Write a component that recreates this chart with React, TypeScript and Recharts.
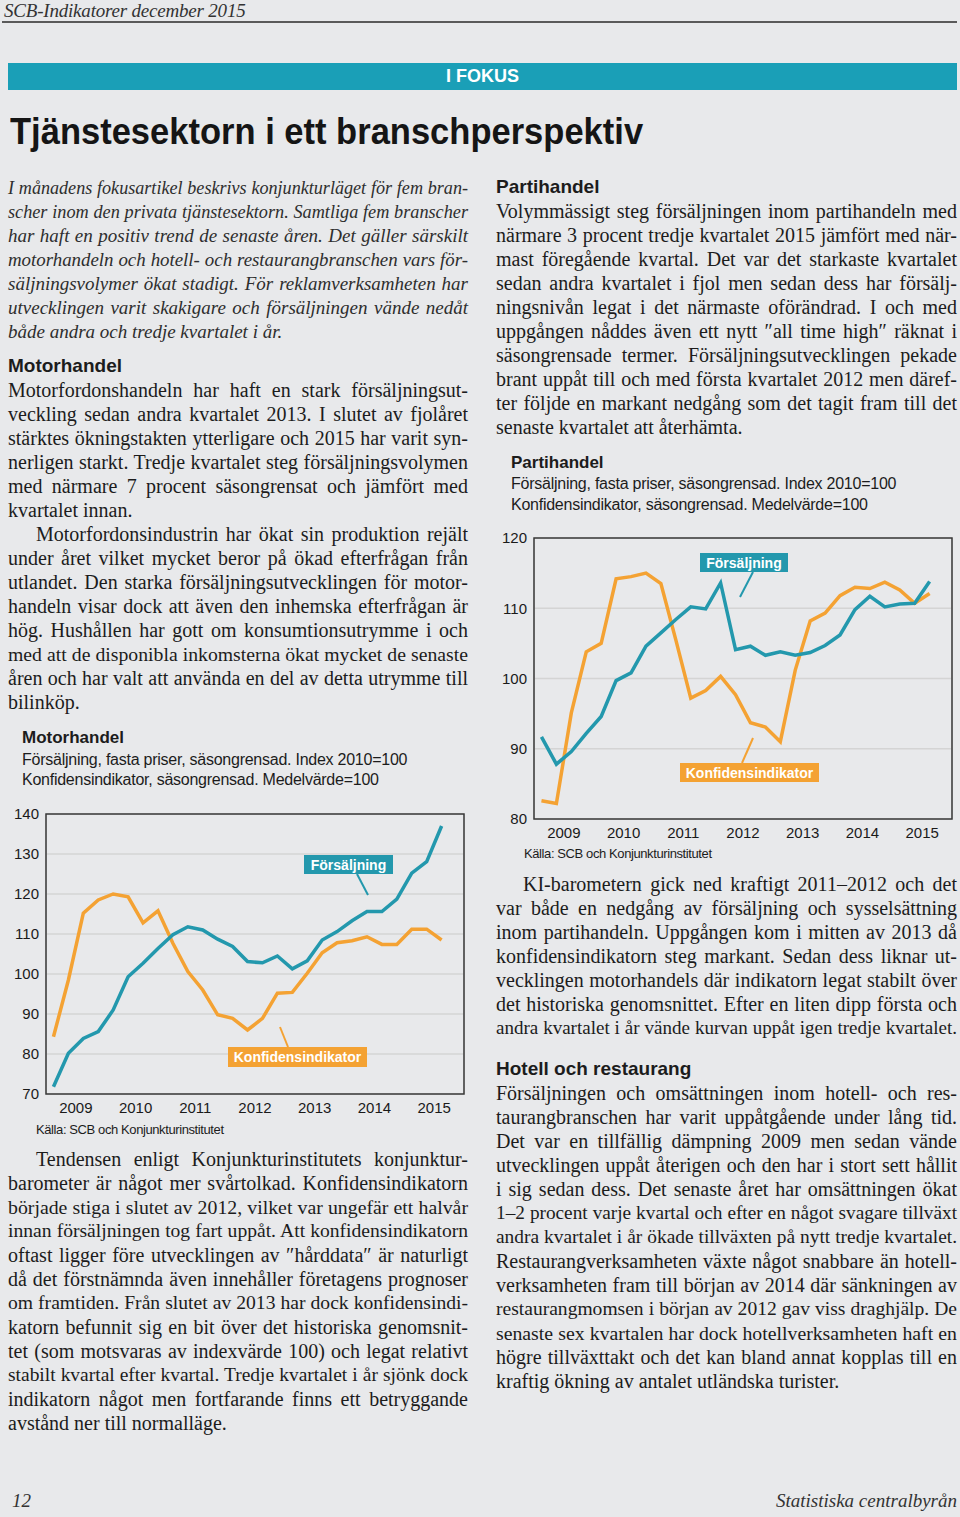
import React, { useLayoutEffect, useRef } from 'react';
import { LineChart, Line, XAxis, YAxis, CartesianGrid, ReferenceArea } from 'recharts';

// kvartalsdata 2009K1 - 2015K3
const years = [2009, 2010, 2011, 2012, 2013, 2014, 2015];

const motorSales = [
    71.8, 80.2, 83.9, 85.6, 91.0, 99.3, 102.7, 106.4, 109.8, 111.8, 111.0, 108.7, 106.9, 103.1,
    102.8, 104.5, 101.3, 103.3, 108.5, 110.6, 113.3, 115.6, 115.6, 118.7, 125.2, 128.1, 137.0
];
const motorConf = [
    84.3, 98.5, 115.2, 118.5, 120.0, 119.3, 112.8, 115.8, 107.7, 100.6, 96.0, 89.8, 88.9, 86.0,
    88.9, 95.2, 95.4, 100.2, 105.3, 107.8, 108.3, 109.3, 107.4, 107.4, 111.2, 111.2, 108.5
];
const motorTicks = [70, 80, 90, 100, 110, 120, 130, 140];

const partiSales = [
    91.7, 87.8, 89.6, 92.2, 94.6, 99.7, 100.8, 104.6, 106.5, 108.4, 110.2, 109.9, 113.6, 104.1,
    104.6, 103.3, 103.8, 103.3, 103.7, 104.7, 106.2, 109.8, 111.7, 110.2, 110.6, 110.7, 113.8
];
const partiConf = [
    82.6, 82.2, 95.1, 103.8, 105.0, 114.2, 114.5, 115.0, 113.5, 105.5, 97.2, 98.3, 100.3, 97.7,
    93.7, 93.1, 91.0, 101.2, 108.2, 109.3, 111.8, 113.0, 112.8, 113.7, 112.6, 110.7, 112.1
];
const partiTicks = [80, 90, 100, 110, 120];

const TEAL = '#2398ad';
const ORANGE = '#f4a233';
const TEXT = '#1c1c1c';
const SANS = '"Liberation Sans", Arial, Helvetica, sans-serif';
const SERIF = '"Liberation Serif", "Times New Roman", serif';

const quarterCount = years.length * 4;
const yearBounds = years.map((_, i) => i * 4).concat(quarterCount);
const yearMids = years.map((_, i) => i * 4 + 2);

const toRows = (sales: number[], conf: number[]) =>
    sales.map((v, i) => ({ q: i + 0.5, sales: v, conf: conf[i] }));

const intro = [
    'I månadens fokusartikel beskrivs konjunkturläget för fem bran-',
    'scher inom den privata tjänstesektorn. Samtliga fem branscher',
    'har haft en positiv trend de senaste åren. Det gäller särskilt',
    'motorhandeln och hotell- och restaurangbranschen vars för-',
    'säljningsvolymer ökat stadigt. För reklamverksamheten har',
    'utvecklingen varit skakigare och försäljningen vände nedåt',
    'både andra och tredje kvartalet i år.'
];
const motorText1 = [
    'Motorfordonshandeln har haft en stark försäljningsut-',
    'veckling sedan andra kvartalet 2013. I slutet av fjolåret',
    'stärktes ökningstakten ytterligare och 2015 har varit syn-',
    'nerligen starkt. Tredje kvartalet steg försäljningsvolymen',
    'med närmare 7 procent säsongrensat och jämfört med',
    'kvartalet innan.'
];
const motorText2 = [
    'Motorfordonsindustrin har ökat sin produktion rejält',
    'under året vilket mycket beror på ökad efterfrågan från',
    'utlandet. Den starka försäljningsutvecklingen för motor-',
    'handeln visar dock att även den inhemska efterfrågan är',
    'hög. Hushållen har gott om konsumtionsutrymme i och',
    'med att de disponibla inkomsterna ökat mycket de senaste',
    'åren och har valt att använda en del av detta utrymme till',
    'bilinköp.'
];
const motorText3 = [
    'Tendensen enligt Konjunkturinstitutets konjunktur-',
    'barometer är något mer svårtolkad. Konfidensindikatorn',
    'började stiga i slutet av 2012, vilket var ungefär ett halvår',
    'innan försäljningen tog fart uppåt. Att konfidensindikatorn',
    'oftast ligger före utvecklingen av ″hårddata″ är naturligt',
    'då det förstnämnda även innehåller företagens prognoser',
    'om framtiden. Från slutet av 2013 har dock konfidensindi-',
    'katorn befunnit sig en bit över det historiska genomsnit-',
    'tet (som motsvaras av indexvärde 100) och legat relativt',
    'stabilt kvartal efter kvartal. Tredje kvartalet i år sjönk dock',
    'indikatorn något men fortfarande finns ett betryggande',
    'avstånd ner till normalläge.'
];
const partiText1 = [
    'Volymmässigt steg försäljningen inom partihandeln med',
    'närmare 3 procent tredje kvartalet 2015 jämfört med när-',
    'mast föregående kvartal. Det var det starkaste kvartalet',
    'sedan andra kvartalet i fjol men sedan dess har försälj-',
    'ningsnivån legat i det närmaste oförändrad. I och med',
    'uppgången nåddes även ett nytt ″all time high″ räknat i',
    'säsongrensade termer. Försäljningsutvecklingen pekade',
    'brant uppåt till och med första kvartalet 2012 men däref-',
    'ter följde en markant nedgång som det tagit fram till det',
    'senaste kvartalet att återhämta.'
];
const partiText2 = [
    'KI-barometern gick ned kraftigt 2011–2012 och det',
    'var både en nedgång av försäljning och sysselsättning',
    'inom partihandeln. Uppgången kom i mitten av 2013 då',
    'konfidensindikatorn steg markant. Sedan dess liknar ut-',
    'vecklingen motorhandels där indikatorn legat stabilt över',
    'det historiska genomsnittet. Efter en liten dipp första och',
    'andra kvartalet i år vände kurvan uppåt igen tredje kvartalet.'
];
const hotelText = [
    'Försäljningen och omsättningen inom hotell- och res-',
    'taurangbranschen har varit uppåtgående under lång tid.',
    'Det var en tillfällig dämpning 2009 men sedan vände',
    'utvecklingen uppåt återigen och den har i stort sett hållit',
    'i sig sedan dess. Det senaste året har omsättningen ökat',
    '1–2 procent varje kvartal och efter en något svagare tillväxt',
    'andra kvartalet i år ökade tillväxten på nytt tredje kvartalet.',
    'Restaurangverksamheten växte något snabbare än hotell-',
    'verksamheten fram till början av 2014 där sänkningen av',
    'restaurangmomsen i början av 2012 gav viss draghjälp. De',
    'senaste sex kvartalen har dock hotellverksamheten haft en',
    'högre tillväxttakt och det kan bland annat kopplas till en',
    'kraftig ökning av antalet utländska turister.'
];

// en rad brödtext; krymper typsnittet om raden inte får plats
function FitLine({ left, top, width, size, italic, last, text }: any) {
    const ref = useRef<HTMLDivElement>(null);
    useLayoutEffect(() => {
        const el = ref.current;
        if (!el) return;
        el.style.fontSize = size + 'px';
        if (el.scrollWidth > el.clientWidth + 0.5) {
            el.style.fontSize = (size * el.clientWidth) / el.scrollWidth - 0.05 + 'px';
        }
    }, [size, text]);
    return (
        <div
            ref={ref}
            style={{
                position: 'absolute',
                left,
                top,
                width,
                height: 24,
                lineHeight: '24px',
                fontSize: size,
                fontStyle: italic ? 'italic' : 'normal',
                whiteSpace: 'nowrap',
                overflow: 'visible',
                textAlign: last ? 'left' : 'justify',
                textAlignLast: last ? 'left' : 'justify'
            }}
        >
            {text}
        </div>
    );
}

function Para({ x, y, w, lines, indent = 0, italic = false, fullLast = false, size = 20 }: any) {
    return (
        <>
            {lines.map((t: string, i: number) => {
                const ind = i === 0 ? indent : 0;
                return (
                    <FitLine
                        key={i}
                        left={x + ind}
                        top={y + i * 24 - 13}
                        width={w - ind}
                        size={size}
                        italic={italic}
                        last={i === lines.length - 1 && !fullLast}
                        text={t}
                    />
                );
            })}
        </>
    );
}

function Heading({ x, y, text, size = 19 }: any) {
    return (
        <div
            style={{
                position: 'absolute',
                left: x,
                top: y - 12,
                lineHeight: '24px',
                fontFamily: SANS,
                fontWeight: 700,
                fontSize: size,
                whiteSpace: 'nowrap'
            }}
        >
            {text}
        </div>
    );
}

function SansLine({ x, y, text, size = 16, spacing = -0.25 }: any) {
    return (
        <div
            style={{
                position: 'absolute',
                left: x,
                top: y - 10,
                lineHeight: '20px',
                fontFamily: SANS,
                fontSize: size,
                letterSpacing: spacing,
                whiteSpace: 'nowrap'
            }}
        >
            {text}
        </div>
    );
}

function IndexChart({ rows, ticks, left, top, width, height, right }: any) {
    const lo = ticks[0];
    const hi = ticks[ticks.length - 1];
    const tickStyle = { fill: '#1a1a1a', fontSize: 15, fontFamily: SANS };
    return (
        <div style={{ position: 'absolute', left, top }}>
            <LineChart width={width} height={height} data={rows} margin={{ top: 14, right, left: 0, bottom: 6 }}>
                <CartesianGrid xAxisId="grid" yAxisId="v" stroke="#d4d4d4" strokeWidth={1.5} />
                <XAxis
                    xAxisId="grid"
                    type="number"
                    dataKey="q"
                    domain={[0, quarterCount]}
                    ticks={yearBounds}
                    interval={0}
                    tick={false}
                    axisLine={false}
                    tickLine={false}
                    height={0}
                />
                <XAxis
                    xAxisId="yr"
                    type="number"
                    dataKey="q"
                    domain={[0, quarterCount]}
                    ticks={yearMids}
                    interval={0}
                    tickFormatter={(v) => String(years[(v - 2) / 4])}
                    axisLine={false}
                    tickLine={false}
                    height={30}
                    tick={tickStyle}
                />
                <YAxis
                    yAxisId="v"
                    type="number"
                    domain={[lo, hi]}
                    ticks={ticks}
                    interval={0}
                    width={46}
                    axisLine={false}
                    tickLine={false}
                    tickSize={5}
                    tickMargin={2}
                    tick={tickStyle}
                />
                <ReferenceArea
                    xAxisId="yr"
                    yAxisId="v"
                    x1={0}
                    x2={quarterCount}
                    y1={lo}
                    y2={hi}
                    fill="none"
                    stroke="#3a3a3a"
                    strokeWidth={1.5}
                    ifOverflow="visible"
                />
                <Line
                    xAxisId="yr"
                    yAxisId="v"
                    type="linear"
                    dataKey="conf"
                    stroke={ORANGE}
                    strokeWidth={3.5}
                    dot={false}
                    isAnimationActive={false}
                />
                <Line
                    xAxisId="yr"
                    yAxisId="v"
                    type="linear"
                    dataKey="sales"
                    stroke={TEAL}
                    strokeWidth={3.5}
                    dot={false}
                    isAnimationActive={false}
                />
            </LineChart>
        </div>
    );
}

// etiketter i diagrammen: ruta + pekare
const callouts = [
    { text: 'Försäljning', color: TEAL, x: 304, y: 855, w: 89, h: 19, p: [357, 874, 368, 895] },
    { text: 'Konfidensindikator', color: ORANGE, x: 228, y: 1047, w: 139, h: 20, p: [280, 1027, 288, 1047] },
    { text: 'Försäljning', color: TEAL, x: 700, y: 553, w: 88, h: 19, p: [753, 572, 740, 597] },
    { text: 'Konfidensindikator', color: ORANGE, x: 680, y: 763, w: 139, h: 19, p: [753, 738, 742, 763] }
];

export default function App() {
    return (
        <div
            style={{
                position: 'absolute',
                left: 0,
                top: 0,
                width: 960,
                height: 1517,
                overflow: 'hidden',
                background: '#e8e9eb',
                fontFamily: SERIF,
                color: TEXT
            }}
        >
            <div
                style={{
                    position: 'absolute',
                    left: 4,
                    top: -1,
                    fontSize: 19,
                    fontStyle: 'italic',
                    lineHeight: '24px',
                    color: '#333',
                    letterSpacing: -0.2
                }}
            >
                SCB-Indikatorer december 2015
            </div>
            <div style={{ position: 'absolute', left: 2, top: 21, width: 955, height: 2, background: '#5a5a5a' }} />

            <div
                style={{
                    position: 'absolute',
                    left: 8,
                    top: 63,
                    width: 949,
                    height: 27,
                    background: '#1a9fb7',
                    color: '#fff',
                    fontFamily: SANS,
                    fontWeight: 700,
                    fontSize: 18,
                    lineHeight: '27px',
                    textAlign: 'center'
                }}
            >
                I FOKUS
            </div>
            <div
                style={{
                    position: 'absolute',
                    left: 10,
                    top: 112,
                    fontFamily: SANS,
                    fontWeight: 700,
                    fontSize: 37,
                    lineHeight: '40px',
                    whiteSpace: 'nowrap',
                    transform: 'scaleX(0.933)',
                    transformOrigin: 'left top',
                    color: '#151515'
                }}
            >
                Tjänstesektorn i ett branschperspektiv
            </div>

            {/* vänster spalt */}
            <div style={{ color: '#2e2e2e' }}>
                <Para x={8} y={189} w={460} lines={intro} italic size={19} />
            </div>
            <Heading x={8} y={366} text="Motorhandel" />
            <Para x={8} y={391} w={460} lines={motorText1} />
            <Para x={8} y={535} w={460} lines={motorText2} indent={28} />

            <Heading x={22} y={738} text="Motorhandel" size={17} />
            <SansLine x={22} y={760} text="Försäljning, fasta priser, säsongrensad. Index 2010=100" />
            <SansLine x={22} y={780} text="Konfidensindikator, säsongrensad. Medelvärde=100" />
            <IndexChart rows={toRows(motorSales, motorConf)} ticks={motorTicks} left={0} top={800} width={480} height={330} right={16} />
            <SansLine x={36} y={1130} text="Källa: SCB och Konjunkturinstitutet" size={13} spacing={-0.4} />

            <Para x={8} y={1160} w={460} lines={motorText3} indent={28} />

            {/* höger spalt */}
            <Heading x={496} y={187} text="Partihandel" />
            <Para x={496} y={212} w={461} lines={partiText1} />

            <Heading x={511} y={463} text="Partihandel" size={17} />
            <SansLine x={511} y={484} text="Försäljning, fasta priser, säsongrensad. Index 2010=100" />
            <SansLine x={511} y={505} text="Konfidensindikator, säsongrensad. Medelvärde=100" />
            <IndexChart rows={toRows(partiSales, partiConf)} ticks={partiTicks} left={488} top={524} width={472} height={331} right={8} />
            <SansLine x={524} y={854} text="Källa: SCB och Konjunkturinstitutet" size={13} spacing={-0.4} />

            <Para x={496} y={885} w={461} lines={partiText2} indent={27} fullLast />
            <Heading x={496} y={1069} text="Hotell och restaurang" />
            <Para x={496} y={1094} w={461} lines={hotelText} />

            <svg width={960} height={1517} style={{ position: 'absolute', left: 0, top: 0, pointerEvents: 'none' }}>
                {callouts.map((c, i) => (
                    <g key={i}>
                        <line x1={c.p[0]} y1={c.p[1]} x2={c.p[2]} y2={c.p[3]} stroke={c.color} strokeWidth={2} />
                        <rect x={c.x} y={c.y} width={c.w} height={c.h} fill={c.color} />
                        <text
                            x={c.x + c.w / 2}
                            y={c.y + c.h / 2 + 5}
                            textAnchor="middle"
                            fill="#fff"
                            fontFamily={SANS}
                            fontWeight={700}
                            fontSize={14}
                        >
                            {c.text}
                        </text>
                    </g>
                ))}
            </svg>

            <div style={{ position: 'absolute', left: 12, top: 1489, fontSize: 19, fontStyle: 'italic', lineHeight: '24px', color: '#333' }}>
                12
            </div>
            <div
                style={{
                    position: 'absolute',
                    right: 3,
                    top: 1489,
                    fontSize: 19,
                    fontStyle: 'italic',
                    lineHeight: '24px',
                    color: '#333'
                }}
            >
                Statistiska centralbyrån
            </div>
        </div>
    );
}
